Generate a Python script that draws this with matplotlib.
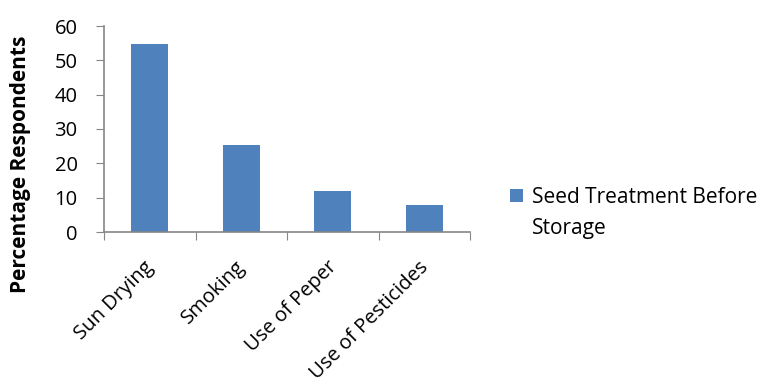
import matplotlib
matplotlib.use("Agg")
import matplotlib.pyplot as plt
import matplotlib.transforms as mtransforms
from matplotlib.patches import Patch

categories = ["Sun Drying", "Smoking", "Use of Peper", "Use of Pesticides"]
values = [54.8, 25.2, 11.8, 8.0]
series_lines = ["Seed Treatment Before", "Storage"]
yticks = [0, 10, 20, 30, 40, 50, 60]

plt.rcParams['font.family'] = ['Open Sans', 'DejaVu Sans']
color = "#4F81BD"
axis_col = "#868686"
W, H = 772, 385

fig = plt.figure(figsize=(W/100, H/100), dpi=100)
ax = fig.add_axes([104/W, 1-232/H, 366/W, (232-26)/H])

x = list(range(len(categories)))
ax.bar(x, values, width=0.4, color=color, zorder=2)
ax.set_xlim(-0.5, len(categories) - 0.5)
ax.set_ylim(0, 60)
ax.set_yticks(yticks)
ax.set_yticklabels([str(t) for t in yticks], fontsize=14.5, color="#000000")

ax.set_xticks([i - 0.5 for i in range(len(categories) + 1)])
ax.set_xticklabels([])
ax.set_xticks(x, minor=True)
ax.set_xticklabels(categories, minor=True, rotation=45, ha='right',
                   rotation_mode='anchor', fontsize=14.5)
ax.tick_params(axis='x', which='minor', length=0, pad=18)
ax.tick_params(axis='x', which='major', length=6, color=axis_col, direction='out')
ax.tick_params(axis='y', length=6, color=axis_col, direction='out', pad=13)
offset = mtransforms.ScaledTranslation(-6/100, 0, fig.dpi_scale_trans)
for lab in ax.get_xticklabels(minor=True):
    lab.set_transform(lab.get_transform() + offset)

for s in ['top', 'right']:
    ax.spines[s].set_visible(False)
for s in ['left', 'bottom']:
    ax.spines[s].set_color(axis_col)
    ax.spines[s].set_linewidth(1.2)

fig.text(21/W, 1-164/H, "Percentage Respondents", rotation=90, fontsize=15,
         fontweight='bold', ha='center', va='center')

handle = Patch(facecolor=color, edgecolor='none')
leg = fig.legend([handle], [series_lines[0]], loc='upper left',
                 bbox_to_anchor=(510/W, 1-187/H), frameon=False, fontsize=15,
                 handlelength=0.6, handleheight=0.6, handletextpad=0.45,
                 borderaxespad=0, borderpad=0)
fig.canvas.draw()
tx0 = leg.get_texts()[0].get_window_extent(fig.canvas.get_renderer()).x0
fig.text(tx0/W, 1-234/H, series_lines[1], fontsize=15, ha='left', va='baseline')

fig.savefig("out.png", dpi=100)
